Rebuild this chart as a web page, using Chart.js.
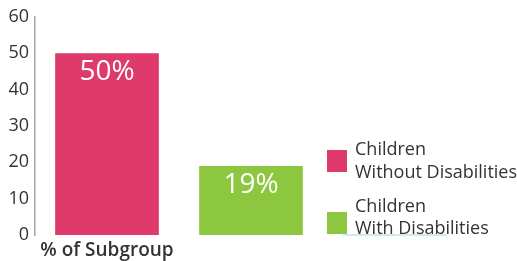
<!DOCTYPE html>
<html>
<head>
<meta charset="utf-8">
<script src="https://cdn.jsdelivr.net/npm/chart.js@4.4.1/dist/chart.umd.min.js"></script>
<style>
  html, body { margin: 0; padding: 0; background: #fff; }
  #wrap { width: 517px; height: 261px; }
</style>
</head>
<body>
<div id="wrap"><canvas id="chart" width="517" height="261"></canvas></div>
<script>
// data
var categories = ['% of Subgroup', ''];
var withoutDisabilities = [50, null];
var withDisabilities = [null, 19];
var seriesNames = [['Children', 'Without Disabilities'], ['Children', 'With Disabilities']];
var yTicks = [0, 10, 20, 30, 40, 50, 60];

var red = '#DE3A6C';
var green = '#8DC63F';
var textColor = '#333333';

// white value labels inside the bars
var barLabels = {
    id: 'barLabels',
    afterDatasetsDraw: function(chart)
    {
        var ctx = chart.ctx;
        ctx.save();
        ctx.fillStyle = '#ffffff';
        ctx.font = '28px "Open Sans"';
        ctx.textAlign = 'center';
        ctx.textBaseline = 'middle';
        chart.data.datasets.forEach(function(ds, i) {
            var meta = chart.getDatasetMeta(i);
            meta.data.forEach(function(bar, j) {
                var v = ds.data[j];
                if (v === null) return;
                ctx.fillText(v + '%', bar.x, bar.y + 19);
            });
        });
        ctx.restore();
    }
};

// two-line legend on the right
var sideLegend = {
    id: 'sideLegend',
    afterDraw: function(chart)
    {
        var ctx = chart.ctx;
        var x = chart.chartArea.right + 4;
        var boxTops = [150, 212];
        var textTops = [155, 211.5];
        ctx.save();
        chart.data.datasets.forEach(function(ds, i) {
            ctx.fillStyle = ds.backgroundColor;
            ctx.fillRect(x, boxTops[i], 20, 22);
            ctx.fillStyle = textColor;
            ctx.font = '18px "Open Sans"';
            ctx.textAlign = 'left';
            ctx.textBaseline = 'alphabetic';
            seriesNames[i].forEach(function(line, k) {
                ctx.fillText(line, x + 28, textTops[i] + k * 22.5);
            });
        });
        // faint underline seen under the last entry
        ctx.strokeStyle = '#a9d3dd';
        ctx.lineWidth = 1;
        ctx.beginPath();
        ctx.moveTo(x + 16, 235);
        ctx.lineTo(x + 120, 235);
        ctx.stroke();
        ctx.restore();
    }
};

new Chart(document.getElementById('chart'), {
    type: 'bar',
    data: {
        labels: categories,
        datasets: [
            {
                label: seriesNames[0].join(' '),
                data: withoutDisabilities,
                backgroundColor: red,
                skipNull: true
            },
            {
                label: seriesNames[1].join(' '),
                data: withDisabilities,
                backgroundColor: green,
                skipNull: true
            }
        ]
    },
    options: {
        responsive: false,
        animation: false,
        layout: { padding: { top: 15, right: 194, left: 0, bottom: 0 } },
        plugins: {
            legend: { display: false },
            tooltip: { enabled: false }
        },
        datasets: {
            bar: { barPercentage: 1, categoryPercentage: 0.72 }
        },
        scales: {
            x: {
                grid: { display: false },
                border: { display: false },
                ticks: {
                    color: textColor,
                    font: { family: 'Open Sans', size: 19, weight: '600' },
                    padding: -4,
                    maxRotation: 0
                },
                afterFit: function(scale) { scale.height = 26; }
            },
            y: {
                min: 0,
                max: 60,
                afterBuildTicks: function(scale) {
                    scale.ticks = yTicks.map(function(v) { return { value: v }; });
                },
                grid: { display: false, drawTicks: false },
                border: { display: true, color: '#a6a6a6', width: 1.5 },
                ticks: {
                    color: textColor,
                    font: { family: 'Open Sans', size: 18 },
                    padding: 6
                },
                afterFit: function(scale) { scale.width = 35; }
            }
        }
    },
    plugins: [barLabels, sideLegend]
});
</script>
</body>
</html>
